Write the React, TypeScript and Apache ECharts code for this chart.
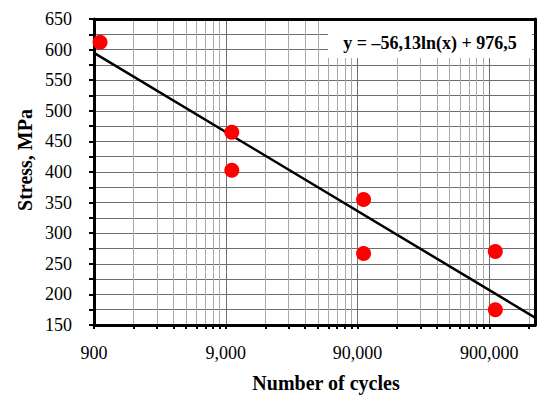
import React, { useEffect, useRef } from "react";
import * as echarts from "echarts";

// ---- data ----
const cycles = [1000, 10000, 10000, 100000, 100000, 1000000, 1000000];
const stress = [612, 465, 403, 355, 267, 270, 175];

// trend line y = a*ln(x) + b (as printed on the chart)
const trendA = -56.13;
const trendB = 976.5;
const trendLabel = "y = –56,13ln(x) + 976,5";

const xMin = 900;
const xMax = 2000000;
const majorXTicks = [900, 9000, 90000, 900000];
const minorMultipliers = [2, 3, 4, 5, 6, 7, 8, 9];

const yMin = 150;
const yMax = 650;
const yStep = 50;

const xTitle = "Number of cycles";
const yTitle = "Stress, MPa";

const FONT = "'Liberation Serif', 'Times New Roman', serif";

export default function App() {
  const ref = useRef<HTMLDivElement>(null);

  useEffect(() => {
    if (!ref.current) return;
    const chart = echarts.init(ref.current, undefined, { renderer: "svg" });

    const allXTicks: number[] = [];
    majorXTicks.forEach((m) => {
      allXTicks.push(m);
      minorMultipliers.forEach((k) => {
        const v = m * k;
        if (v <= xMax) allXTicks.push(v);
      });
    });

    const scatterData = cycles.map((c, i) => [c, stress[i]]);
    const trendData = [xMin, xMax].map((x) => [x, trendA * Math.log(x) + trendB]);

    chart.setOption({
      animation: false,
      backgroundColor: "#ffffff",
      grid: { left: 94, right: 15, top: 19, bottom: 76 },
      xAxis: [
        {
          type: "log",
          logBase: 10,
          min: xMin,
          max: xMax,
          position: "bottom",
          axisLine: { show: true, lineStyle: { color: "#000", width: 3 } },
          axisTick: {
            show: true,
            inside: false,
            length: 4,
            lineStyle: { color: "#000", width: 2 },
            customValues: allXTicks,
          },
          axisLabel: {
            show: true,
            customValues: majorXTicks,
            formatter: (v: number) => Math.round(v).toLocaleString("en-US"),
            fontFamily: FONT,
            fontSize: 18,
            color: "#000",
            margin: 19,
          },
          splitLine: { show: true, lineStyle: { color: "#a8a8a8", width: 1 } },
          minorTick: { show: false },
          minorSplitLine: { show: false },
        },
        {
          type: "log",
          logBase: 10,
          min: xMin,
          max: xMax,
          position: "top",
          axisLine: { show: true, lineStyle: { color: "#000", width: 3 } },
          axisTick: { show: false, customValues: majorXTicks },
          axisLabel: { show: false, customValues: majorXTicks },
          splitLine: { show: true, lineStyle: { color: "#6e6e6e", width: 1 } },
        },
      ],
      yAxis: [
        {
          type: "value",
          min: yMin,
          max: yMax,
          interval: yStep,
          position: "left",
          axisLine: { show: true, lineStyle: { color: "#000", width: 3 } },
          axisTick: { show: true, inside: false, length: 5, lineStyle: { color: "#000", width: 2 } },
          minorTick: { show: true, splitNumber: 2, length: 5, lineStyle: { color: "#000", width: 2 } },
          axisLabel: { fontFamily: FONT, fontSize: 18, color: "#000", margin: 22 },
          splitLine: { show: true, lineStyle: { color: "#6e6e6e", width: 1 } },
          minorSplitLine: { show: true, lineStyle: { color: "#6e6e6e", width: 1 } },
        },
        {
          type: "value",
          min: yMin,
          max: yMax,
          interval: yStep,
          position: "right",
          axisLine: { show: true, lineStyle: { color: "#000", width: 3 } },
          axisTick: { show: false },
          axisLabel: { show: false },
          splitLine: { show: false },
        },
      ],
      series: [
        {
          type: "line",
          data: trendData,
          xAxisIndex: 0,
          yAxisIndex: 0,
          symbol: "none",
          lineStyle: { color: "#000", width: 2.5 },
          z: 3,
          silent: true,
        },
        {
          type: "scatter",
          data: scatterData,
          xAxisIndex: 0,
          yAxisIndex: 0,
          symbol: "circle",
          symbolSize: 15,
          itemStyle: { color: "#ff0000", opacity: 1 },
          z: 4,
        },
      ],
      graphic: [
        {
          type: "rect",
          shape: { x: 328, y: 21, width: 204, height: 37 },
          style: { fill: "#ffffff" },
          z: 10,
        },
        {
          type: "text",
          x: 430,
          y: 43,
          style: {
            text: trendLabel,
            font: `bold 18px ${FONT}`,
            fill: "#000",
            textAlign: "center",
            textVerticalAlign: "middle",
          },
          z: 11,
        },
        {
          type: "text",
          x: 326,
          y: 383,
          style: {
            text: xTitle,
            font: `bold 20px ${FONT}`,
            fill: "#000",
            textAlign: "center",
            textVerticalAlign: "middle",
          },
        },
        {
          type: "text",
          x: 25,
          y: 160,
          rotation: Math.PI / 2,
          style: {
            text: yTitle,
            font: `bold 20px ${FONT}`,
            fill: "#000",
            textAlign: "center",
            textVerticalAlign: "middle",
          },
        },
      ],
    });

    return () => chart.dispose();
  }, []);

  return (
    <div
      ref={ref}
      style={{ position: "absolute", left: 0, top: 0, width: 550, height: 401 }}
    />
  );
}
